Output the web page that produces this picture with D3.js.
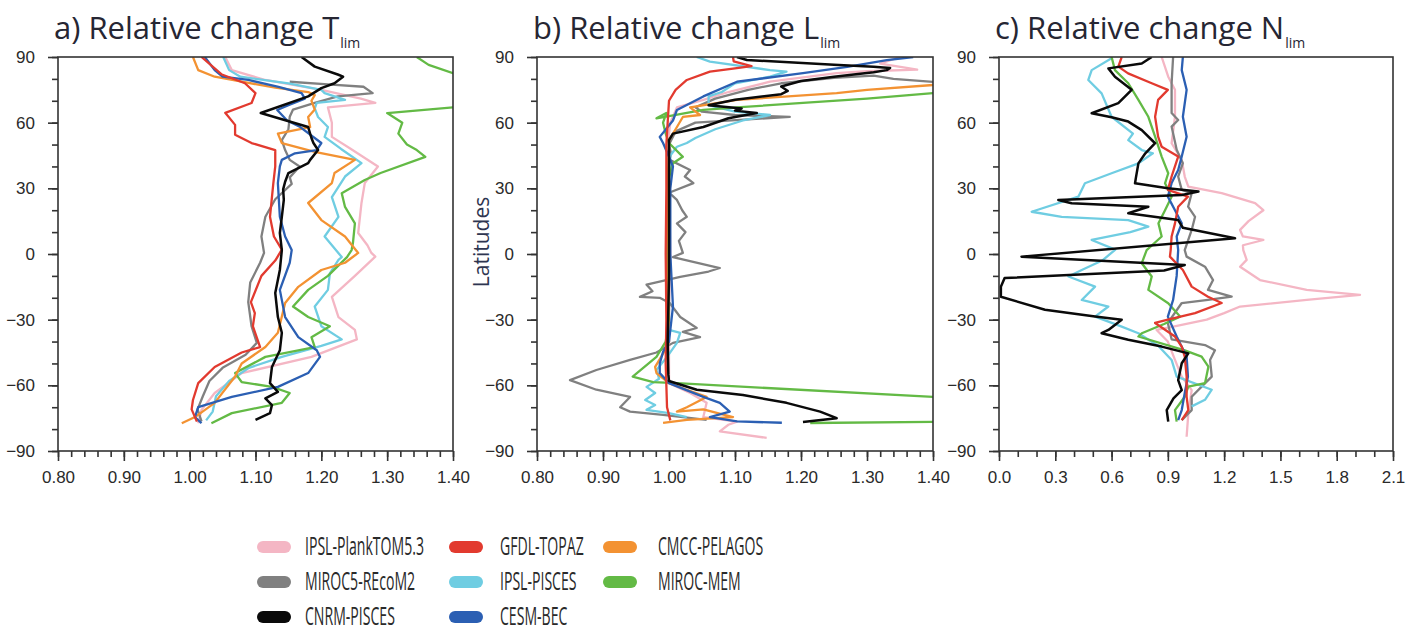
<!DOCTYPE html>
<html>
<head>
<meta charset="utf-8">
<script src="https://cdn.jsdelivr.net/npm/d3@7"></script>
<style>
  body { margin: 0; background: #fff; }
  svg { display: block; }
</style>
</head>
<body>
<svg id="chart" width="1408" height="632"></svg>
<script>
"use strict";

// models, in legend order (column by column)
var models = ["IPSL-PlankTOM5.3", "MIROC5-REcoM2", "CNRM-PISCES",
	"GFDL-TOPAZ", "IPSL-PISCES", "CESM-BEC",
	"CMCC-PELAGOS", "MIROC-MEM"];
var colors = ["#f4b6c4", "#808080", "#0a0a0a",
	"#e23a2f", "#6fcde2", "#2b5fb3",
	"#f39232", "#63ba45"];

var latTicks = [-90, -60, -30, 0, 30, 60, 90];
var ticksTL = [0.80, 0.90, 1.00, 1.10, 1.20, 1.30, 1.40];
var ticksN = [0.0, 0.3, 0.6, 0.9, 1.2, 1.5, 1.8, 2.1];

// each profile is [latitude, relative change]
// a) T lim
var pinkT = [[90,1.054],[84,1.064],[79.5,1.115],[75,1.20],[71,1.26],[69,1.282],[67,1.21],[60,1.216],[53.5,1.216],[48,1.245],[40,1.286],[32.4,1.266],[23.3,1.261],[9.6,1.256],[4,1.27],[0.5,1.276],[-1.2,1.282],[-10,1.251],[-19.6,1.216],[-28.8,1.226],[-34.7,1.251],[-39,1.254],[-47,1.185],[-54.4,1.079],[-63.5,1.038],[-71.2,1.018],[-77.3,1.013]];
var grayT = [[78.7,1.152],[77.5,1.21],[76.4,1.264],[73.5,1.278],[72,1.225],[69,1.19],[66,1.157],[62.7,1.152],[57,1.15],[52,1.14],[47.5,1.145],[43,1.152],[40,1.167],[35,1.152],[32,1.155],[25,1.13],[17,1.115],[8,1.109],[0.5,1.113],[-4,1.107],[-13,1.092],[-22,1.089],[-33,1.094],[-40.6,1.102],[-46,1.085],[-52,1.05],[-58,1.03],[-65,1.02],[-71,1.012],[-76.5,1.018]];
var blackT = [[90,1.17],[85.6,1.19],[82,1.225],[81,1.233],[78,1.22],[75.8,1.20],[72,1.18],[64.4,1.108],[58,1.18],[53,1.185],[50.7,1.188],[47.5,1.195],[43,1.183],[41.5,1.18],[37,1.15],[33,1.145],[29.5,1.142],[24.7,1.143],[17,1.14],[9.6,1.137],[1.8,1.14],[-7.3,1.137],[-17.8,1.13],[-28.8,1.134],[-36,1.14],[-44,1.137],[-51.6,1.125],[-59,1.122],[-63,1.134],[-66,1.115],[-69,1.125],[-72.7,1.122],[-75.8,1.10]];
var redT = [[90,1.018],[82,1.049],[78,1.084],[73.5,1.10],[69,1.094],[64.5,1.054],[59,1.069],[54.5,1.069],[50.7,1.094],[47.5,1.13],[40,1.13],[32,1.127],[17,1.122],[8,1.128],[2,1.14],[-3,1.13],[-10,1.109],[-22,1.093],[-27,1.099],[-33,1.096],[-42.5,1.107],[-45,1.079],[-51.6,1.038],[-59,1.013],[-66.7,1.005],[-71,1.003],[-76.6,1.011]];
var cyanT = [[90,1.051],[84,1.06],[81,1.077],[78,1.15],[75,1.20],[73.5,1.205],[70.4,1.236],[69,1.193],[66.5,1.19],[62.6,1.195],[58,1.21],[53.5,1.205],[48,1.23],[41.5,1.261],[35.4,1.236],[26,1.216],[17,1.226],[8,1.205],[-1.4,1.231],[-2.7,1.226],[-8.8,1.213],[-16.4,1.21],[-24,1.19],[-33,1.20],[-39,1.231],[-42,1.20],[-47,1.14],[-52,1.09],[-58,1.06],[-65,1.04],[-72,1.035],[-76,1.025]];
var blueT = [[90,1.023],[84,1.038],[81,1.05],[79.5,1.089],[76.4,1.135],[73.5,1.17],[71,1.175],[68,1.15],[65.8,1.133],[61,1.148],[58,1.168],[50.7,1.20],[47.5,1.193],[46,1.16],[43,1.14],[40,1.137],[32.4,1.134],[17,1.137],[8,1.145],[1.8,1.155],[-4,1.152],[-16.4,1.137],[-28.8,1.145],[-38,1.165],[-44,1.193],[-47,1.198],[-54.4,1.18],[-60.7,1.134],[-65.3,1.064],[-70,1.013],[-74.5,1.008],[-77.3,1.018]];
var orangeT = [[90,1.005],[84,1.013],[81,1.038],[78.7,1.079],[76,1.13],[74,1.18],[72.6,1.19],[70,1.185],[66,1.19],[62.6,1.18],[58,1.183],[55,1.134],[50.7,1.14],[46.7,1.19],[43,1.251],[37,1.22],[32.4,1.216],[23.3,1.18],[15.5,1.20],[8,1.236],[0.5,1.256],[-4,1.236],[-7.3,1.20],[-15,1.165],[-22.4,1.145],[-36,1.134],[-42.5,1.115],[-50,1.079],[-56,1.069],[-68,1.038],[-74.5,1.008],[-77.3,0.988]];
var greenT = [[90,1.345],[86.4,1.363],[82.6,1.40],[80,1.50],[70,1.50],[67,1.40],[64.4,1.30],[60,1.323],[55,1.317],[50,1.33],[47.5,1.345],[44.4,1.358],[37,1.29],[33.8,1.266],[27.8,1.231],[21.5,1.236],[14,1.251],[5,1.248],[1.8,1.246],[-1.4,1.239],[-10,1.21],[-16.4,1.18],[-24,1.157],[-28.8,1.18],[-33,1.213],[-38,1.185],[-42.5,1.19],[-47,1.115],[-54.4,1.069],[-58.5,1.079],[-60.7,1.125],[-63.5,1.152],[-68,1.14],[-72.7,1.064],[-77.3,1.033]];

// b) L lim
var pinkL = [[90,1.35],[87,1.32],[85,1.36],[84.2,1.376],[83.5,1.30],[82.6,1.254],[78.7,1.153],[74,1.09],[70.4,1.052],[67,1.012],[60,1.002],[55,1.0],[30,1.0],[0,1.002],[-30,1.0],[-50,1.0],[-59,1.0],[-63.5,1.032],[-68,1.057],[-74.5,1.052],[-76.6,1.103],[-78,1.09],[-81,1.077],[-84,1.148]];
var grayL = [[78.4,1.45],[78.6,1.40],[80,1.34],[81.5,1.31],[80.5,1.25],[78,1.17],[75,1.12],[71,1.07],[67,1.04],[65,1.05],[63.5,1.10],[62.6,1.183],[61.5,1.12],[60,1.04],[56,1.01],[50,1.0],[46,1.003],[43,1.001],[38.4,1.032],[35.4,1.024],[32.4,1.037],[28,1.0],[24.7,1.012],[20,1.02],[17,1.027],[14,1.012],[10,1.025],[6,1.015],[0.5,1.021],[-1.4,1.006],[-6.4,1.077],[-8,1.06],[-10.4,1.017],[-14,0.966],[-17,0.975],[-19.6,0.956],[-20,0.986],[-22.4,1.001],[-28.8,1.017],[-33.8,1.042],[-35.6,1.021],[-38,1.047],[-40.6,1.006],[-45,0.981],[-48.4,0.941],[-53,0.89],[-57.6,0.85],[-62,0.89],[-65.3,0.941],[-70,0.926],[-72,0.941],[-73.5,0.991],[-75.8,1.057]];
var blackL = [[90,1.103],[88.6,1.118],[86.5,1.25],[85.6,1.31],[85,1.335],[84,1.33],[83,1.31],[81,1.25],[79,1.20],[76.5,1.17],[74.5,1.18],[73,1.17],[70.5,1.10],[68,1.06],[66.5,1.11],[65.5,1.10],[64.4,1.133],[62,1.09],[58,1.052],[55,1.006],[52,1.0],[40,1.0],[20,1.0],[-10,1.0],[-40,0.998],[-55,0.999],[-58,1.0],[-62,1.042],[-64.4,1.112],[-68,1.178],[-72,1.229],[-75,1.254],[-76.7,1.203]];
var redL = [[90,1.097],[88,1.098],[85.8,1.125],[84.8,1.10],[83.3,1.062],[79.5,1.027],[75,1.01],[70,1.0],[60,0.998],[50,0.996],[30,0.996],[0,0.995],[-30,0.996],[-50,0.995],[-60,0.996],[-70,0.997],[-76,1.002]];
var cyanL = [[90,1.042],[87.9,1.062],[84,1.153],[83.3,1.178],[81,1.153],[78,1.10],[74,1.08],[72,1.06],[68,1.06],[65,1.10],[63.5,1.153],[61,1.112],[57,1.07],[53,1.04],[50.7,1.027],[49,1.012],[45,1.002],[30,1.0],[0,1.0],[-30,1.0],[-34.7,1.0],[-36,1.017],[-40.6,1.012],[-47,0.997],[-53,0.981],[-57,0.985],[-60.7,0.966],[-63.5,0.979],[-66.7,0.964],[-69,0.979],[-71.2,0.966],[-72.7,1.0],[-74.5,1.027]];
var blueL = [[90,1.37],[88.6,1.33],[85.5,1.27],[82.6,1.203],[78.7,1.103],[72,1.052],[65.8,1.012],[61,1.006],[53.5,0.986],[50.7,0.991],[44.4,1.0],[40,1.006],[30,1.002],[0,1.002],[-24,1.006],[-40,1.0],[-44.7,0.991],[-50,0.986],[-54.4,0.986],[-59,1.0],[-65.3,1.052],[-68,1.077],[-72,1.092],[-74.5,1.062],[-76.5,1.103],[-77.1,1.171]];
var orangeL = [[90,1.40],[88,1.45],[78,1.45],[77.2,1.40],[75,1.30],[73.5,1.254],[70.4,1.103],[67,1.032],[63.5,1.047],[62.6,1.021],[57,1.01],[52,1.0],[30,0.998],[0,0.999],[-30,0.999],[-40,1.0],[-42.5,0.997],[-51.6,0.979],[-54.4,0.981],[-59,1.0],[-62,1.027],[-65.3,1.057],[-70,1.027],[-72,1.012],[-71,1.052],[-74.5,1.097],[-75.8,1.027],[-77.2,0.991]];
var greenL = [[76,1.5],[73.5,1.40],[71,1.30],[69,1.203],[67,1.103],[65.8,1.052],[63,1.0],[62,0.981],[64.4,0.996],[60,0.991],[55,0.995],[50.7,1.0],[44.4,1.021],[41.5,1.006],[35,1.0],[0,0.997],[-30,1.0],[-40,0.995],[-47,0.981],[-56,0.945],[-58.5,0.976],[-59,1.012],[-65.3,1.40],[-67,1.6],[-75,1.6],[-76.7,1.40],[-77.2,1.214]];

// c) N lim (no CMCC-PELAGOS profile here)
var pinkN = [[90,0.867],[81,0.902],[75,0.938],[62.7,0.938],[50.6,0.92],[43,0.974],[35.4,0.99],[30.8,1.009],[27.8,1.187],[23.2,1.365],[20,1.409],[15,1.33],[11,1.285],[8,1.30],[6.4,1.409],[4,1.30],[1.8,1.302],[-2.7,1.32],[-5.8,1.285],[-11.9,1.391],[-16.4,1.64],[-18.7,1.924],[-21,1.64],[-24,1.285],[-27,1.20],[-30,1.107],[-33.2,0.929],[-34.7,0.84],[-40,0.90],[-48.4,0.938],[-56,0.974],[-62.2,1.027],[-72.9,1.009],[-83.5,1.0]];
var grayN = [[90,0.928],[78,0.92],[64.4,0.92],[61.2,0.955],[58.2,0.92],[47.6,0.947],[41.5,0.98],[35.4,0.955],[29.3,0.974],[27.8,1.027],[21.6,1.008],[17,1.045],[11,1.027],[1.8,0.99],[-1.2,1.0],[-5.8,1.098],[-11.9,1.141],[-16.4,1.114],[-19.5,1.24],[-21,1.114],[-22.4,0.974],[-31.5,0.90],[-39,0.92],[-41.6,1.098],[-44,1.151],[-48.4,1.125],[-56,1.134],[-60.6,1.08],[-65.2,1.027],[-71.3,1.027],[-75.9,0.974]];
var blackN = [[90,0.814],[87,0.761],[84.8,0.583],[81,0.618],[75,0.707],[68.9,0.636],[64.3,0.494],[62.5,0.60],[60.5,0.689],[56.6,0.761],[50.6,0.832],[46,0.78],[41.4,0.743],[35,0.73],[32.3,0.725],[30,0.90],[28.5,1.063],[27,0.974],[24.7,0.316],[23.2,0.387],[21.6,0.796],[18.6,0.689],[15.5,0.955],[12,0.98],[7.2,1.258],[-1.2,0.12],[-5,0.99],[-7.5,0.88],[-11,0.03],[-15,0.01],[-19.5,0.01],[-25.5,0.245],[-28.6,0.512],[-30,0.654],[-34.7,0.583],[-36.2,0.547],[-39.2,0.689],[-42.3,0.867],[-45.4,1.009],[-49.9,0.974],[-57.6,0.955],[-62.2,0.974],[-66,0.93],[-71.3,0.894],[-76.6,0.902]];
var redN = [[90,0.654],[85.6,0.636],[82.5,0.688],[78,0.814],[75,0.90],[70.4,0.848],[62.7,0.832],[53.6,0.848],[49,0.867],[44.5,0.955],[35.4,0.92],[29.3,0.90],[26.2,1.007],[21.6,0.955],[14,0.938],[8,0.92],[1.8,0.915],[-1.2,0.911],[-7.3,0.98],[-14.9,1.027],[-19.5,1.114],[-22.4,1.187],[-27,1.045],[-30,0.90],[-31.5,0.832],[-37.7,0.938],[-42.3,0.974],[-46.9,0.99],[-56,1.0],[-65.2,1.0],[-71.3,1.009],[-75.9,0.974]];
var cyanN = [[89.4,0.60],[84,0.494],[79.5,0.476],[73.4,0.547],[62.7,0.60],[55,0.714],[52,0.689],[47.5,0.761],[46,0.82],[41.4,0.743],[36.9,0.60],[32.3,0.458],[26.2,0.423],[19.3,0.174],[17,0.334],[15.5,0.689],[12.5,0.796],[10,0.70],[6.4,0.494],[2,0.62],[-3,0.55],[-7.3,0.441],[-10.3,0.37],[-14.9,0.512],[-21,0.441],[-24,0.583],[-28.6,0.512],[-33.2,0.654],[-36.2,0.743],[-42,0.85],[-48.4,0.92],[-56,0.947],[-62,1.134],[-66.6,1.098],[-69.6,1.027]];
var blueN = [[90,0.98],[84,0.974],[75,1.0],[62.7,0.98],[53.6,1.0],[44.5,0.974],[38.4,0.955],[32.4,0.92],[26.2,0.90],[20,0.938],[14,0.974],[8,0.947],[1.8,0.955],[-10,0.947],[-21,0.928],[-28.6,0.90],[-37.7,0.947],[-46.9,1.0],[-56,1.007],[-63.5,0.99],[-71.3,0.974],[-75.9,0.955]];
var orangeN = [];
var greenN = [[90,0.60],[84,0.618],[78,0.689],[70.4,0.743],[62.7,0.796],[53.6,0.832],[44.5,0.867],[36.9,0.902],[32.3,0.885],[26.2,0.92],[20,0.885],[14,0.85],[8,0.867],[1.8,0.787],[-4.2,0.761],[-10.3,0.814],[-16.4,0.796],[-22.5,0.902],[-28.6,0.965],[-32,0.88],[-36.2,0.761],[-37.7,0.743],[-44,0.99],[-46.9,1.08],[-51.5,1.116],[-59,1.098],[-60.6,1.009],[-65.2,0.99],[-71.3,0.938],[-76.6,0.947]];

// series per panel, same order as models
var seriesT = [pinkT, grayT, blackT, redT, cyanT, blueT, orangeT, greenT];
var seriesL = [pinkL, grayL, blackL, redL, cyanL, blueL, orangeL, greenL];
var seriesN = [pinkN, grayN, blackN, redN, cyanN, blueN, orangeN, greenN];

// light ones first so the dark ones stay on top
var drawOrder = [0, 1, 4, 7, 6, 5, 3, 2];

var panels = [
	{ id: "a", title: "a) Relative change T", sub: "lim", left: 58, right: 453,
		domain: [0.8, 1.4], ticks: ticksTL, minorStep: 0.02, fmt: ".2f", series: seriesT },
	{ id: "b", title: "b) Relative change L", sub: "lim", left: 537, right: 933,
		domain: [0.8, 1.4], ticks: ticksTL, minorStep: 0.02, fmt: ".2f", series: seriesL, ylabel: "Latitudes" },
	{ id: "c", title: "c) Relative change N", sub: "lim", left: 999, right: 1393,
		domain: [0, 2.1], ticks: ticksN, minorStep: 0.1, fmt: ".1f", series: seriesN }
];

var plotTop = 57, plotBottom = 451;
var svg = d3.select("#chart");
var axisColor = "#333";

var y = d3.scaleLinear().domain([-90, 90]).range([plotBottom, plotTop]);
var latMinor = d3.range(-90, 91, 10);

panels.forEach(function (p) {
	var x = d3.scaleLinear().domain(p.domain).range([p.left, p.right]);
	var n = Math.round((p.domain[1] - p.domain[0]) / p.minorStep);
	var minor = d3.range(n + 1).map(function (i) { return p.domain[0] + i * p.minorStep; });

	svg.append("clipPath").attr("id", "clip-" + p.id)
		.append("rect")
		.attr("x", p.left).attr("y", plotTop)
		.attr("width", p.right - p.left).attr("height", plotBottom - plotTop);

	var g = svg.append("g");

	// profiles
	var line = d3.line()
		.x(function (d) { return x(d[1]); })
		.y(function (d) { return y(d[0]); });

	g.append("g").attr("clip-path", "url(#clip-" + p.id + ")")
		.selectAll("path")
		.data(drawOrder.filter(function (i) { return p.series[i].length; }))
		.enter().append("path")
		.attr("d", function (i) { return line(p.series[i]); })
		.attr("fill", "none")
		.attr("stroke", function (i) { return colors[i]; })
		.attr("stroke-width", function (i) { return i === 2 ? 2.5 : 2.3; })
		.attr("stroke-linejoin", "round");

	// frame
	g.append("rect")
		.attr("x", p.left).attr("y", plotTop)
		.attr("width", p.right - p.left).attr("height", plotBottom - plotTop)
		.attr("fill", "none").attr("stroke", axisColor).attr("stroke-width", 1.6);

	// minor ticks
	var xMinor = g.append("g").attr("transform", "translate(0," + plotBottom + ")")
		.call(d3.axisBottom(x).tickValues(minor).tickSize(6).tickSizeOuter(0).tickFormat(""));
	var yMinor = g.append("g").attr("transform", "translate(" + p.left + ",0)")
		.call(d3.axisLeft(y).tickValues(latMinor).tickSize(6).tickSizeOuter(0).tickFormat(""));

	// major ticks with labels
	var xAxis = g.append("g").attr("transform", "translate(0," + plotBottom + ")")
		.call(d3.axisBottom(x).tickValues(p.ticks).tickSize(10).tickPadding(10)
			.tickSizeOuter(0).tickFormat(d3.format(p.fmt)));
	var yAxis = g.append("g").attr("transform", "translate(" + p.left + ",0)")
		.call(d3.axisLeft(y).tickValues(latTicks).tickSize(10).tickPadding(13)
			.tickSizeOuter(0).tickFormat(d3.format("d")));

	[xMinor, yMinor, xAxis, yAxis].forEach(function (a) {
		a.select(".domain").remove();
		a.selectAll("line").attr("stroke", axisColor).attr("stroke-width", 1.6);
		a.selectAll("text")
			.attr("fill", "#2a2a2a")
			.style("font-family", "'Liberation Sans', Arial, sans-serif")
			.style("font-size", "17px");
	});

	// title with subscript
	var t = svg.append("text")
		.attr("x", p.left - 4).attr("y", 39)
		.attr("fill", "#262633")
		.style("font-family", "'Open Sans', sans-serif")
		.style("font-size", "31px")
		.text(p.title);
	t.append("tspan").attr("dx", 1).attr("dy", 9)
		.style("font-size", "14px").text(p.sub);

	if (p.ylabel) {
		svg.append("text")
			.attr("transform", "translate(489,242) rotate(-90)")
			.attr("text-anchor", "middle")
			.attr("fill", "#2e3550")
			.style("font-family", "'Open Sans', sans-serif")
			.style("font-size", "21px")
			.text(p.ylabel);
	}
});

// legend, three columns (pulled up a little so the last row fits)
var legX = [257, 449, 603], legTextX = [305, 500, 658];
var legTop = 547, legStep = 35;
var legend = svg.append("g").selectAll("g")
	.data(models)
	.enter().append("g");

legend.append("rect")
	.attr("x", function (d, i) { return legX[Math.floor(i / 3)]; })
	.attr("y", function (d, i) { return legTop + (i % 3) * legStep - 6; })
	.attr("width", 34).attr("height", 12).attr("rx", 6)
	.attr("fill", function (d, i) { return colors[i]; });

legend.append("text")
	.attr("transform", function (d, i) {
		return "translate(" + legTextX[Math.floor(i / 3)] + "," + (legTop + 8 + (i % 3) * legStep) + ") scale(0.64,1.15)";
	})
	.attr("fill", "#2a2a2a")
	.style("font-family", "'Open Sans', sans-serif")
	.style("font-size", "22px")
	.text(function (d) { return d; });
</script>
</body>
</html>
